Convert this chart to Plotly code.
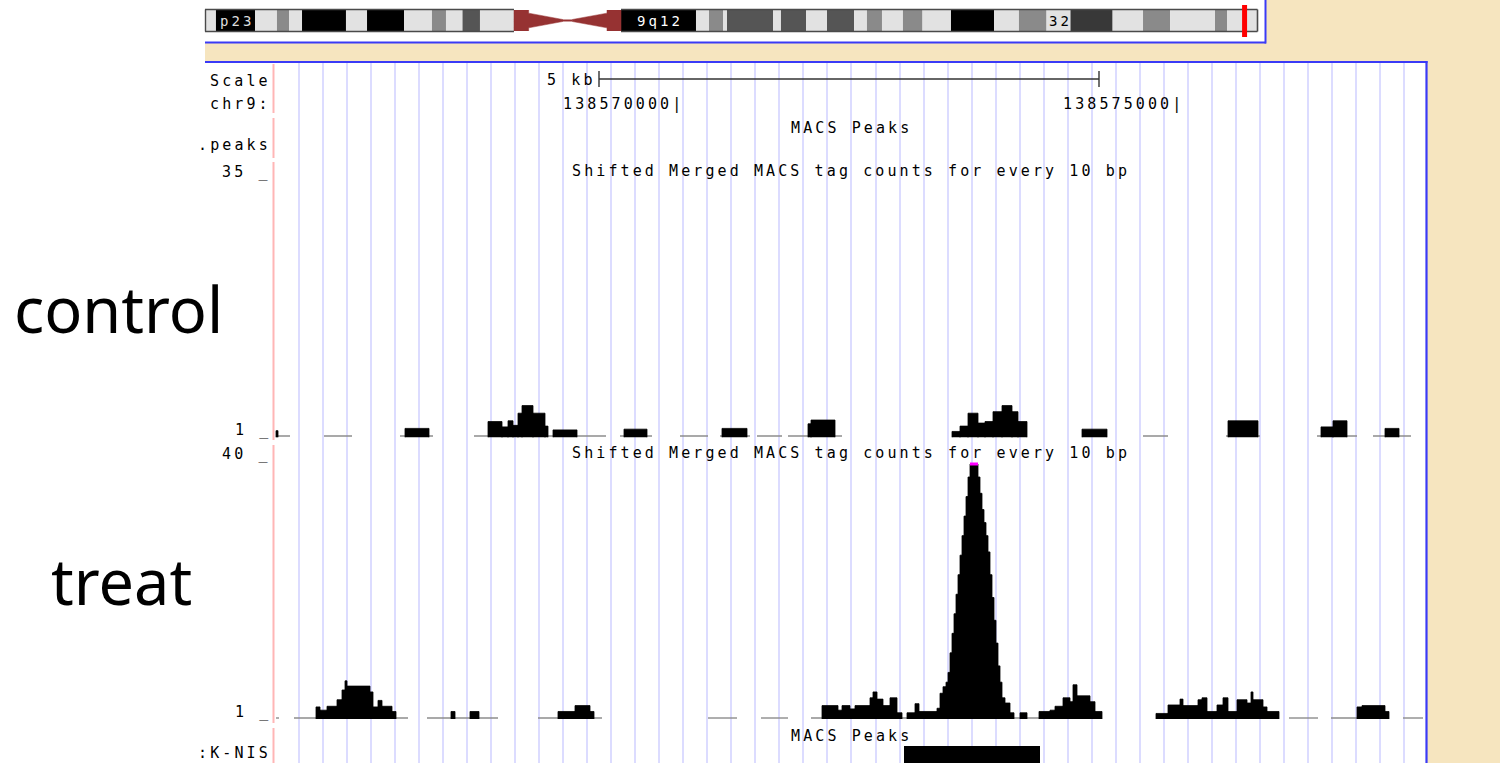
import plotly.graph_objects as go

W, H = 1500, 763

# ---------------- browser window (chr9) ----------------
CHROM = "chr9"
VIEW_START, VIEW_END = 138565980, 138577490
POS_MARKS = [138570000, 138575000]
SCALE_BAR = [138569230, 138574230]
SCALE_TEXT = "5 kb"
GUIDE_START, GUIDE_STEP = 138565990, 240.2

TRACK_TITLE = "Shifted Merged MACS tag counts for every 10 bp"
PEAK_TITLE = "MACS Peaks"
SIDE_LABELS = ["Scale", CHROM + ":", ".peaks", ":K-NIS"]
GROUP_LABELS = ["control", "treat"]

# ---------------- wiggle tracks ----------------
# breakpoints (bp) and the tag count between consecutive breakpoints
# (None = no data, 1 = empty baseline)
CTRL_POS = [
    138566000, 138566020, 138566140, 138566480, 138566760, 138567240, 138567290, 138567530, 138567570, 138567980,
    138568120, 138568260, 138568320, 138568370, 138568420, 138568460, 138568570, 138568690, 138568720, 138568770,
    138569010, 138569300, 138569440, 138569480, 138569710, 138569760, 138570040, 138570320, 138570440, 138570460,
    138570710, 138570740, 138570810, 138571060, 138571120, 138571320, 138571350, 138571590, 138571660, 138572760,
    138572840, 138572920, 138573020, 138573090, 138573170, 138573260, 138573360, 138573420, 138573510, 138574060,
    138574310, 138574670, 138574920, 138575500, 138575520, 138575820, 138575840, 138576410, 138576450, 138576570,
    138576710, 138576810, 138576970, 138577090, 138577230, 138577350,
]
CTRL_VAL = [
    1.7, 1, None, 1, None, 1, 2, 1, None, 1,
    2.9, 2.2, 3.0, 2.4, 4.0, 5.0, 4.0, 2.3, 1, 1.8,
    1, None, 1, 1.9, 1, None, 1, None, 1, 2,
    1, None, 1, None, 1, 2.6, 3.1, 1, None, 1.6,
    2.3, 4.0, 2.7, 2.9, 4.2, 5.0, 4.2, 2.9, None, 1.9,
    None, 1, None, 1, 3.0, 1, None, 1, 2.2, 3.0,
    1, None, 1, 2, 1,
]
CTRL_LIMITS = [1, 35]

TREAT_POS = [
    138566000, 138566030, 138566180, 138566400, 138566440, 138566510, 138566610, 138566660, 138566690, 138566710,
    138566940, 138566970, 138567020, 138567060, 138567160, 138567200, 138567320, 138567510, 138567750, 138567790,
    138567940, 138568030, 138568220, 138568620, 138568820, 138568990, 138569140, 138569180, 138569260, 138570320,
    138570610, 138570850, 138571120, 138571350, 138571460, 138571620, 138571660, 138571740, 138571790, 138571940,
    138571970, 138572010, 138572070, 138572140, 138572210, 138572260, 138572310, 138572390, 138572430, 138572610,
    138572640, 138572670, 138572700, 138572720, 138572740, 138572760, 138572780, 138572800, 138572820, 138572840,
    138572860, 138572880, 138572900, 138572920, 138572940, 138572960, 138573020, 138573040, 138573060, 138573080,
    138573100, 138573120, 138573140, 138573160, 138573180, 138573200, 138573220, 138573240, 138573260, 138573290,
    138573340, 138573380, 138573440, 138573510, 138573630, 138573740, 138573790, 138573870, 138573940, 138573970,
    138574010, 138574140, 138574190, 138574260, 138574800, 138574920, 138575040, 138575070, 138575220, 138575260,
    138575310, 138575410, 138575470, 138575520, 138575610, 138575710, 138575750, 138575770, 138575870, 138575910,
    138576030, 138576130, 138576420, 138576550, 138576810, 138576860, 138577090, 138577130, 138577270, 138577470,
]
TREAT_VAL = [
    1, None, 1, 2.7, 2.2, 2.8, 3.8, 5.3, 6.7, 5.9,
    5.0, 2.7, 3.7, 2.8, 2.0, 1, None, 1, 2.0, 1,
    2.0, 1, None, 1, 2.0, 2.9, 2.0, 1, None, 1,
    None, 1, None, 1, 2.9, 2.2, 2.9, 2.4, 2.9, 4.1,
    5.0, 3.9, 2.9, 4.1, 1.8, 1, 1.8, 3.2, 2.0, 2.5,
    4.8, 5.8, 6.5, 8, 11, 14, 17, 20, 23, 26,
    29, 32, 35, 38, 41, 44, 38, 35.5, 33, 31,
    29, 26.5, 23, 19.5, 16, 12.5, 9, 6.5, 4.1, 3.3,
    1.8, 1, 1.8, 1, 2.0, 2.2, 2.8, 4.1, 3.5, 6.1,
    4.4, 3.5, 2.0, None, 1.7, 3.0, 3.9, 2.9, 3.8, 4.1,
    2.0, 3.0, 4.1, 2.0, 3.8, 3.3, 5.0, 3.8, 2.7, 2.0,
    None, 1, None, 1, 2.7, 2.9, 2.0, None, 1,
]
TREAT_LIMITS = [1, 40]

PEAK_STARTS = [138572280]
PEAK_ENDS = [138573640]

# ---------------- chr9 ideogram (Mb) ----------------
IDEO_VIEW_MB = [2.81, 140.26]
P_EDGES = [0, 4.24, 9.34, 12.21, 13.78, 15.48, 21.22, 23.97, 28.80, 32.45, 34.28, 36.44, 38.72, 43.16]
P_STAINS = ["gneg", "gpos100", "gneg", "gpos50", "gneg", "gpos100", "gneg", "gpos100",
            "gneg", "gpos50", "gneg", "gpos75", "gneg"]
CEN_MB = [43.16, 57.14]
Q_EDGES = [57.14, 66.93, 68.63, 70.46, 70.98, 76.99, 78.03, 81.30, 84.04, 87.57, 89.26, 91.22, 93.96,
           96.51, 100.23, 105.85, 109.11, 112.71, 115.84, 121.34, 125.31, 128.84, 134.71, 136.28, 140.26]
Q_STAINS = ["gvar", "gneg", "gpos50", "gneg", "gpos75", "gneg", "gpos75", "gneg", "gpos75", "gneg",
            "gpos50", "gneg", "gpos50", "gneg", "gpos100", "gneg", "gpos50", "gneg", "gpos90", "gneg",
            "gpos50", "gneg", "gpos50", "gneg"]
BAND_LABELS = ["p23", "9q12", "32"]
BAND_LABEL_SPANS = [(4.24, 9.34), (57.14, 66.93), (112.71, 115.84)]
BAND_LABEL_COLORS = ["#dddddd", "#ffffff", "#000000"]

STAIN_COLORS = {"gneg": "#e2e2e2", "gpos50": "#8a8a8a", "gpos75": "#555555",
                "gpos90": "#383838", "gpos100": "#000000", "gvar": "#000000"}
CEN_COLOR = "#963232"

# ---------------- styling ----------------
BEIGE = "#f6e5bf"
BLUE = "#3a3af6"
GUIDE_COLOR = "#dcdcff"
PINK = "#ffb6b6"
BASE_GRAY = "#8c8c8c"
MONO = "DejaVu Sans Mono"
MONO_SIZE = 15
LS = 3.1  # extra letter spacing for the browser text


def fx(px):
    return px / W


def fy(py):
    return 1 - py / H


DATA_L, DATA_R = 274, 1425
IDEO_L, IDEO_R, IDEO_T, IDEO_B = 205, 1257.5, 10, 31

# pixel rows of each wiggle track: baseline (value 1) and top of view
CTRL_BASE_PX, CTRL_TOP_PX = 436, 177.6
TREAT_BASE_PX, TREAT_TOP_PX = 718, 464
Y_LO = 0.85


def track_axis(base_px, top_px, limits, pad_top):
    unit = (base_px - top_px) / (limits[1] - limits[0])
    lo_px = base_px + (limits[0] - Y_LO) * unit
    hi_px = top_px - pad_top * unit
    return dict(domain=[fy(lo_px), fy(hi_px)], range=[Y_LO, limits[1] + pad_top],
                visible=False, fixedrange=True)


def fill_path(pos, val, vmax):
    xs, ys = [], []
    for i, v in enumerate(val):
        if v is None or v <= 1:
            continue
        h = min(v, vmax)
        xs += [pos[i], pos[i], pos[i + 1], pos[i + 1]]
        ys += [0, h, h, 0]
    return xs, ys


def level_path(pos, val, keep, level):
    xs, ys = [], []
    prev_end = None
    for i, v in enumerate(val):
        if v is None or not keep(v):
            continue
        a, b = pos[i], pos[i + 1]
        if prev_end != a:
            if xs:
                xs.append(None)
                ys.append(None)
            xs.append(a)
            ys.append(level)
        xs.append(b)
        ys.append(level)
        prev_end = b
    return xs, ys


traces = []


def add_track(pos, val, limits, xa, ya):
    bx, by = level_path(pos, val, lambda v: True, limits[0])
    traces.append(go.Scatter(x=bx, y=by, mode="lines", line=dict(color=BASE_GRAY, width=1.4),
                             hoverinfo="skip", xaxis=xa, yaxis=ya))
    fxs, fys = fill_path(pos, val, limits[1])
    traces.append(go.Scatter(x=fxs, y=fys, mode="lines", fill="toself", fillcolor="black",
                             line=dict(color="black", width=0.8), hoverinfo="skip", xaxis=xa, yaxis=ya))
    cx, cy = level_path(pos, val, lambda v: v > limits[1], limits[1])
    if cx:
        traces.append(go.Scatter(x=cx, y=cy, mode="lines", line=dict(color="#ff00ff", width=3),
                                 hoverinfo="skip", xaxis=xa, yaxis=ya))


add_track(CTRL_POS, CTRL_VAL, CTRL_LIMITS, "x2", "y2")
add_track(TREAT_POS, TREAT_VAL, TREAT_LIMITS, "x3", "y3")

# MACS peak calls
px_, py_ = [], []
for s, e in zip(PEAK_STARTS, PEAK_ENDS):
    if px_:
        px_.append(None)
        py_.append(None)
    px_ += [s, e, e, s, s]
    py_ += [0, 0, 1, 1, 0]
traces.append(go.Scatter(x=px_, y=py_, mode="lines", fill="toself", fillcolor="black",
                         line=dict(color="black", width=0), hoverinfo="skip", xaxis="x4", yaxis="y4"))

# ideogram bands
starts = P_EDGES[:-1] + Q_EDGES[:-1]
ends = P_EDGES[1:] + Q_EDGES[1:]
stains = P_STAINS + Q_STAINS
traces.append(go.Bar(orientation="h", y=[0.5] * len(starts), base=starts,
                     x=[e - s for s, e in zip(starts, ends)], width=1,
                     marker=dict(color=[STAIN_COLORS[s] for s in stains], line=dict(width=0)),
                     hoverinfo="skip", xaxis="x5", yaxis="y5"))

# centromere (two tapering halves joined by a thin stalk)
c0, c1 = CEN_MB
cw = c1 - c0
cen_x = [c0, c0 + 0.137 * cw, c0 + 0.137 * cw, c0 + 0.453 * cw, c0 + 0.453 * cw, c0 + 0.137 * cw,
         c0 + 0.137 * cw, c0, c0, None,
         c1, c1 - 0.131 * cw, c1 - 0.131 * cw, c1 - 0.453 * cw, c1 - 0.453 * cw, c1 - 0.131 * cw,
         c1 - 0.131 * cw, c1, c1, None,
         c0 + 0.45 * cw, c1 - 0.45 * cw, c1 - 0.45 * cw, c0 + 0.45 * cw, c0 + 0.45 * cw]
cen_y = [1, 1, 0.85, 0.55, 0.45, 0.15, 0, 0, 1, None,
         1, 1, 0.85, 0.55, 0.45, 0.15, 0, 0, 1, None,
         0.53, 0.53, 0.47, 0.47, 0.53]
traces.append(go.Scatter(x=cen_x, y=cen_y, mode="lines", fill="toself", fillcolor=CEN_COLOR,
                         line=dict(color=CEN_COLOR, width=0.5), hoverinfo="skip",
                         xaxis="x5", yaxis="y5"))

fig = go.Figure(traces)

data_dom = [fx(DATA_L), fx(DATA_R)]
hidden_x = dict(matches="x", domain=data_dom, visible=False, fixedrange=True)

fig.update_layout(
    width=W, height=H, margin=dict(l=0, r=0, t=0, b=0),
    paper_bgcolor="white", plot_bgcolor="rgba(0,0,0,0)", showlegend=False,
    barmode="overlay",
    xaxis=dict(domain=data_dom, range=[VIEW_START, VIEW_END], showgrid=True, gridcolor=GUIDE_COLOR,
               gridwidth=1.6, tick0=GUIDE_START, dtick=GUIDE_STEP, ticks="", showticklabels=False,
               zeroline=False, showline=False, fixedrange=True, anchor="y"),
    yaxis=dict(domain=[0, fy(63)], range=[0, 1], visible=False, fixedrange=True, anchor="x"),
    xaxis2=dict(hidden_x, anchor="y2"),
    yaxis2=dict(track_axis(CTRL_BASE_PX, CTRL_TOP_PX, CTRL_LIMITS, 0), anchor="x2"),
    xaxis3=dict(hidden_x, anchor="y3"),
    yaxis3=dict(track_axis(TREAT_BASE_PX, TREAT_TOP_PX, TREAT_LIMITS, 0.4), anchor="x3"),
    xaxis4=dict(hidden_x, anchor="y4"),
    yaxis4=dict(domain=[0, fy(746)], range=[0, 1], visible=False, fixedrange=True, anchor="x4"),
    xaxis5=dict(domain=[fx(IDEO_L), fx(IDEO_R)], range=IDEO_VIEW_MB, visible=False,
                fixedrange=True, anchor="y5"),
    yaxis5=dict(domain=[fy(IDEO_B), fy(IDEO_T)], range=[0, 1], visible=False,
                fixedrange=True, anchor="x5"),
)


def mb_px(mb):
    return IDEO_L + (mb - IDEO_VIEW_MB[0]) / (IDEO_VIEW_MB[1] - IDEO_VIEW_MB[0]) * (IDEO_R - IDEO_L)


shapes = []


def rect(x0, y0, x1, y1, color, layer="below"):
    shapes.append(dict(type="rect", xref="paper", yref="paper", x0=fx(x0), x1=fx(x1),
                       y0=fy(y1), y1=fy(y0), fillcolor=color, line=dict(width=0), layer=layer))


def seg(x0, y0, x1, y1, color, width, xref="paper"):
    X0 = x0 if xref != "paper" else fx(x0)
    X1 = x1 if xref != "paper" else fx(x1)
    shapes.append(dict(type="line", xref=xref, yref="paper", x0=X0, x1=X1, y0=fy(y0), y1=fy(y1),
                       line=dict(color=color, width=width), layer="above"))


# textured page background around the browser image
rect(1266, 0, W, 62, BEIGE)
rect(205, 43, W, 62, BEIGE)
rect(1427, 62, W, H, BEIGE)

# blue frames
seg(205, 42.5, 1266, 42.5, BLUE, 2)
seg(1265.5, 0, 1265.5, 43.5, BLUE, 2)
seg(205, 62, 1427.5, 62, BLUE, 2.2)
seg(1426.5, 61, 1426.5, H, BLUE, 2.2)

# pink track separators at the left edge of the data area
for y0, y1 in [(64, 113), (118, 158), (162, 440), (445, 723), (728, H)]:
    seg(273.5, y0, 273.5, y1, PINK, 2)

# ideogram outline (interrupted at the centromere)
cen_l, cen_r = mb_px(CEN_MB[0]), mb_px(CEN_MB[1])
outline = "#4a4a4a"
for a, b in [(IDEO_L, cen_l), (cen_r, IDEO_R)]:
    seg(a, IDEO_T - 0.5, b, IDEO_T - 0.5, outline, 1.6)
    seg(a, IDEO_B + 0.5, b, IDEO_B + 0.5, outline, 1.6)
seg(IDEO_L + 0.5, IDEO_T - 0.5, IDEO_L + 0.5, IDEO_B + 0.5, outline, 1.4)
seg(IDEO_R, IDEO_T - 0.5, IDEO_R, IDEO_B + 0.5, outline, 1.6)

# red marker of the displayed window on the ideogram
win_mb = (VIEW_START + VIEW_END) / 2 / 1e6
wx = mb_px(win_mb)
seg(wx, 5, wx, 37, "#ff0000", 5)

# scale bar
seg(SCALE_BAR[0], 79, SCALE_BAR[1], 79, "#333333", 1.4, xref="x")
for xb in SCALE_BAR:
    seg(xb, 71, xb, 87, "#333333", 1.4, xref="x")

fig.update_layout(shapes=shapes)

ann = []


def spaced(s):
    return f"<span style='letter-spacing:{LS}px'>{s}</span>"


def text(t, x, y, xanchor="center", xref="paper", yref="paper", yanchor="middle",
         xshift=0, yshift=0, color="black", size=MONO_SIZE, family=MONO, space=True):
    ann.append(dict(text=spaced(t) if space else t, x=x, y=y, xref=xref, yref=yref,
                    xanchor=xanchor, yanchor=yanchor, xshift=xshift, yshift=yshift,
                    showarrow=False, borderpad=0, borderwidth=0,
                    font=dict(family=family, size=size, color=color)))


LABEL_R = 268
CENTER = (DATA_L + DATA_R) / 2

# side labels
for t, y in zip(SIDE_LABELS, [81, 104, 145, 753]):
    text(t, fx(LABEL_R), fy(y), xanchor="right", xshift=LS)

# coordinate ruler
text(SCALE_TEXT, SCALE_BAR[0], fy(80), xanchor="right", xref="x", xshift=-6 + LS)
for p in POS_MARKS:
    text(f"{p}|", p, fy(104), xanchor="right", xref="x", xshift=8)

# track titles
text(PEAK_TITLE, fx(CENTER), fy(128), xshift=LS / 2)
text(TRACK_TITLE, fx(CENTER), fy(171), xshift=LS / 2)
text(TRACK_TITLE, fx(CENTER), fy(453), xshift=LS / 2)
text(PEAK_TITLE, fx(CENTER), fy(736), xshift=LS / 2)

# view limits of the wiggle tracks
text(f"{CTRL_LIMITS[1]} _", fx(LABEL_R), CTRL_LIMITS[1], xanchor="right", yref="y2",
     yanchor="bottom", xshift=LS, yshift=-3)
text(f"{CTRL_LIMITS[0]} _", fx(LABEL_R), CTRL_LIMITS[0], xanchor="right", yref="y2",
     yanchor="bottom", xshift=LS, yshift=-3)
text(f"{TREAT_LIMITS[1]} _", fx(LABEL_R), TREAT_LIMITS[1], xanchor="right", yref="y3",
     yanchor="bottom", xshift=LS, yshift=1)
text(f"{TREAT_LIMITS[0]} _", fx(LABEL_R), TREAT_LIMITS[0], xanchor="right", yref="y3",
     yanchor="bottom", xshift=LS, yshift=-3)

# ideogram band names
for name, (a, b), col in zip(BAND_LABELS, BAND_LABEL_SPANS, BAND_LABEL_COLORS):
    text(name, (a + b) / 2, 0.5, xref="x5", yref="y5", xshift=LS / 2, color=col, size=14)

# sample group labels
text(GROUP_LABELS[0], fx(118), fy(308), family="Noto Sans", size=63, space=False)
text(GROUP_LABELS[1], fx(122), fy(580), family="Noto Sans", size=63, space=False)

fig.update_layout(annotations=ann)

fig.write_html("out.html", config={"displayModeBar": False})
